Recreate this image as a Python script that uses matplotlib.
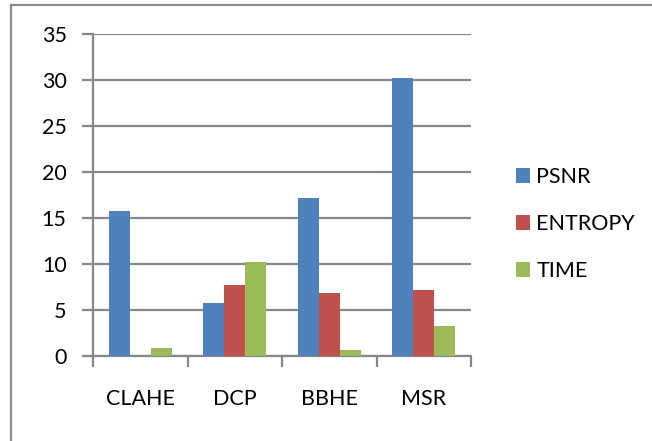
import matplotlib
matplotlib.use("Agg")
import matplotlib.pyplot as plt
import numpy as np
from matplotlib.lines import Line2D

categories = ["CLAHE", "DCP", "BBHE", "MSR"]
series_names = ["PSNR", "ENTROPY", "TIME"]
psnr = [15.8, 5.8, 17.2, 30.2]
entropy = [0.0, 7.7, 6.8, 7.2]
time_vals = [0.9, 10.2, 0.7, 3.3]
yticks = [0, 5, 10, 15, 20, 25, 30, 35]

colors = ["#4F81BD", "#C0504D", "#9BBB59"]
grid_color = "#878787"

plt.rcParams["font.family"] = ["Lato", "DejaVu Sans"]

W, H = 652, 441
fig = plt.figure(figsize=(W / 100, H / 100), dpi=100)
ax = fig.add_axes([93 / W, 1 - 356 / H, (471 - 93) / W, (356 - 34.3) / H])

x = np.arange(len(categories))
bw = 1 / 4.5
for i, (name, vals) in enumerate(zip(series_names, [psnr, entropy, time_vals])):
    ax.bar(x + (i - 1) * bw, vals, width=bw, color=colors[i], label=name, zorder=3)

ax.set_xlim(-0.5, len(categories) - 0.5)
ax.set_ylim(0, 35)
ax.set_yticks(yticks)
ax.set_yticklabels([str(v) for v in yticks])
ax.yaxis.grid(True, color=grid_color, lw=1.6, zorder=1)
ax.set_axisbelow(True)

# category labels between boundary tick marks
ax.set_xticks(x)
ax.set_xticklabels(categories)
ax.set_xticks(np.arange(len(categories) + 1) - 0.5, minor=True)
ax.tick_params(axis="x", which="major", length=0, pad=24, labelsize=15.5)
ax.tick_params(axis="x", which="minor", length=8, width=1.6, color=grid_color, direction="out")
ax.tick_params(axis="y", length=8, width=1.6, color=grid_color, pad=11, labelsize=15.5)

for side in ["top", "right"]:
    ax.spines[side].set_visible(False)
for side in ["left", "bottom"]:
    ax.spines[side].set_color(grid_color)
    ax.spines[side].set_linewidth(1.6)

fig.legend(loc="center left", bbox_to_anchor=(516 / W, 1 - 224 / H),
           frameon=False, fontsize=15.5, handlelength=0.65, handleheight=0.65,
           handletextpad=0.3, labelspacing=1.25, borderpad=0, borderaxespad=0)

# chart frame
fig.add_artist(Line2D([10.5 / W, 10.5 / W], [0, 1 - 5 / H], color="#8c8c8c", lw=1.6))
fig.add_artist(Line2D([10.5 / W, 1], [1 - 5 / H, 1 - 5 / H], color="#8c8c8c", lw=1.6))

fig.savefig("out.png", dpi=100)
